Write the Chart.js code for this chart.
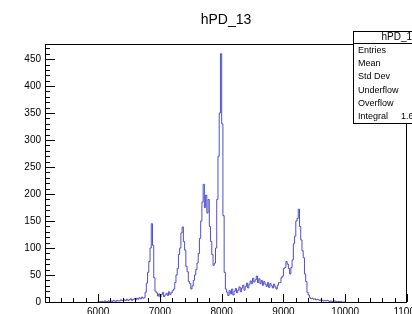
<!DOCTYPE html>
<html>
<head>
<meta charset="utf-8">
<script src="https://cdn.jsdelivr.net/npm/chart.js@4.4.1/dist/chart.umd.min.js"></script>
<style>
  body { margin: 0; background: #fff; }
  canvas { display: block; }
</style>
</head>
<body>
<canvas id="hPD_13" width="412" height="314"></canvas>
<script>
// hPD_13 : counts per 20 wide bin, first bin starts at 6000
var histName = "hPD_13";
var binLow = 6000;
var binWidth = 20;
var counts = [
    0, 1, 0, 1, 1, 0, 2, 1, 1, 2,
    1, 2, 1, 3, 2, 1, 3, 2, 2, 4,
    3, 2, 4, 3, 5, 3, 4, 6, 3, 5,
    6, 4, 7, 5, 8, 6, 9, 7,
    8, 18, 35, 55, 75, 100, 145, 105, 45, 20,
    17, 11, 15, 9, 14, 18, 10, 13, 16, 12, 19, 14, 17, 21,
    24, 36, 50, 62, 88, 100, 128, 139, 112, 96, 66, 56, 38, 34, 24,
    30, 40, 50, 60, 72, 90, 118, 150, 185, 218, 175, 198, 165, 190, 140, 112, 88, 68,
    72, 100, 190, 270, 350, 460, 330, 160, 55, 24,
    18, 12, 21, 15, 24, 13, 20, 25, 17, 22, 28, 19, 26, 31, 22, 29, 35, 26, 33, 39,
    34, 44, 37, 41, 48, 36, 43, 34, 40, 31, 38, 33, 29, 36, 27, 34, 30, 26, 33, 28,
    24, 31, 36,
    36, 45, 48, 62, 64, 75, 70, 62, 52, 64, 78, 108, 122, 150, 155, 172, 140, 115, 95, 82,
    52, 38, 18, 13,
    8, 6, 7, 5, 6, 4, 5, 4, 3, 4, 3, 2, 3, 2, 3, 2, 1, 2, 1, 1, 2, 1, 0, 1, 0, 1, 0, 0
];
var xTicks = [6000, 7000, 8000, 9000, 10000, 11000];
var yTicks = [0, 50, 100, 150, 200, 250, 300, 350, 400, 450];
var statsLabels = ["Entries", "Mean", "Std Dev", "Underflow", "Overflow", "Integral"];
var statsValues = ["", "", "", "", "", "1.6e+04"];

var points = [];
counts.forEach(function(c, i) {
    points.push({x: binLow + i * binWidth, y: c});
});
points.push({x: binLow + counts.length * binWidth, y: 0});

var font = '"Liberation Sans", Arial, sans-serif';

// ROOT style frame, inward ticks, title and stats box
var rootPad = {
    id: 'rootPad',
    beforeDraw: function(chart) {
        var ctx = chart.ctx;
        ctx.save();
        ctx.fillStyle = '#fff';
        ctx.fillRect(0, 0, chart.width, chart.height);
        ctx.restore();
    },
    afterDraw: function(chart) {
        var ctx = chart.ctx, a = chart.chartArea;
        var xs = chart.scales.x, ys = chart.scales.y;
        ctx.save();
        ctx.strokeStyle = '#000';
        ctx.lineWidth = 1;
        ctx.strokeRect(a.left + 0.5, a.top + 0.5, a.right - a.left - 1, a.bottom - a.top);

        ctx.beginPath();
        // x axis ticks, minor every 200
        for (var v = Math.ceil(xs.min / 200) * 200; v <= xs.max; v += 200) {
            var px = Math.round(xs.getPixelForValue(v)) + 0.5;
            var len = (v % 1000 === 0) ? 8 : 4;
            ctx.moveTo(px, a.bottom);
            ctx.lineTo(px, a.bottom - len);
        }
        // y axis ticks, minor every 10
        for (var w = 0; w <= ys.max; w += 10) {
            var py = Math.round(ys.getPixelForValue(w)) + 0.5;
            var l = (w % 50 === 0) ? 10 : 5;
            ctx.moveTo(a.left, py);
            ctx.lineTo(a.left + l, py);
        }
        ctx.stroke();

        ctx.fillStyle = '#000';
        ctx.font = '10px ' + font;
        ctx.textAlign = 'center';
        ctx.textBaseline = 'top';
        xTicks.forEach(function(t) {
            ctx.fillText(String(t), xs.getPixelForValue(t), a.bottom + 5);
        });
        ctx.textAlign = 'right';
        ctx.textBaseline = 'middle';
        yTicks.forEach(function(t) {
            ctx.fillText(String(t), a.left - 4, ys.getPixelForValue(t));
        });

        // title
        ctx.font = '14px ' + font;
        ctx.textAlign = 'center';
        ctx.fillText(histName, (a.left + a.right) / 2, 20);

        // stats box
        var bx = 353.5, by = 31.5, bw = 92, bh = 92;
        ctx.fillStyle = '#fff';
        ctx.fillRect(bx, by, bw, bh);
        ctx.strokeRect(bx, by, bw, bh);
        ctx.beginPath();
        ctx.moveTo(bx, 43.5);
        ctx.lineTo(bx + bw, 43.5);
        ctx.stroke();
        ctx.fillStyle = '#000';
        ctx.font = '10px ' + font;
        ctx.fillText(histName, bx + bw / 2, 37.5);
        ctx.font = '9px ' + font;
        ctx.textAlign = 'left';
        statsLabels.forEach(function(s, i) {
            var ry = 50.5 + i * 13.2;
            ctx.fillText(s, 358, ry);
            if (statsValues[i]) ctx.fillText(statsValues[i], 401, ry);
        });
        ctx.restore();
    }
};

var chart = new Chart(document.getElementById('hPD_13').getContext('2d'), {
    type: 'line',
    data: {
        datasets: [{
            label: histName,
            data: points,
            stepped: 'after',
            borderColor: 'rgba(60, 60, 200, 0.9)',
            borderWidth: 1,
            pointRadius: 0,
            fill: false
        }]
    },
    options: {
        responsive: false,
        animation: false,
        devicePixelRatio: 1,
        layout: { padding: { left: 45, top: 44, right: 5, bottom: 12 } },
        scales: {
            x: { type: 'linear', min: 5140, max: 11000, display: false },
            y: { min: 0, max: 478, display: false }
        },
        plugins: { legend: { display: false }, tooltip: { enabled: false }, title: { display: false } }
    },
    plugins: [rootPad]
});
</script>
</body>
</html>
